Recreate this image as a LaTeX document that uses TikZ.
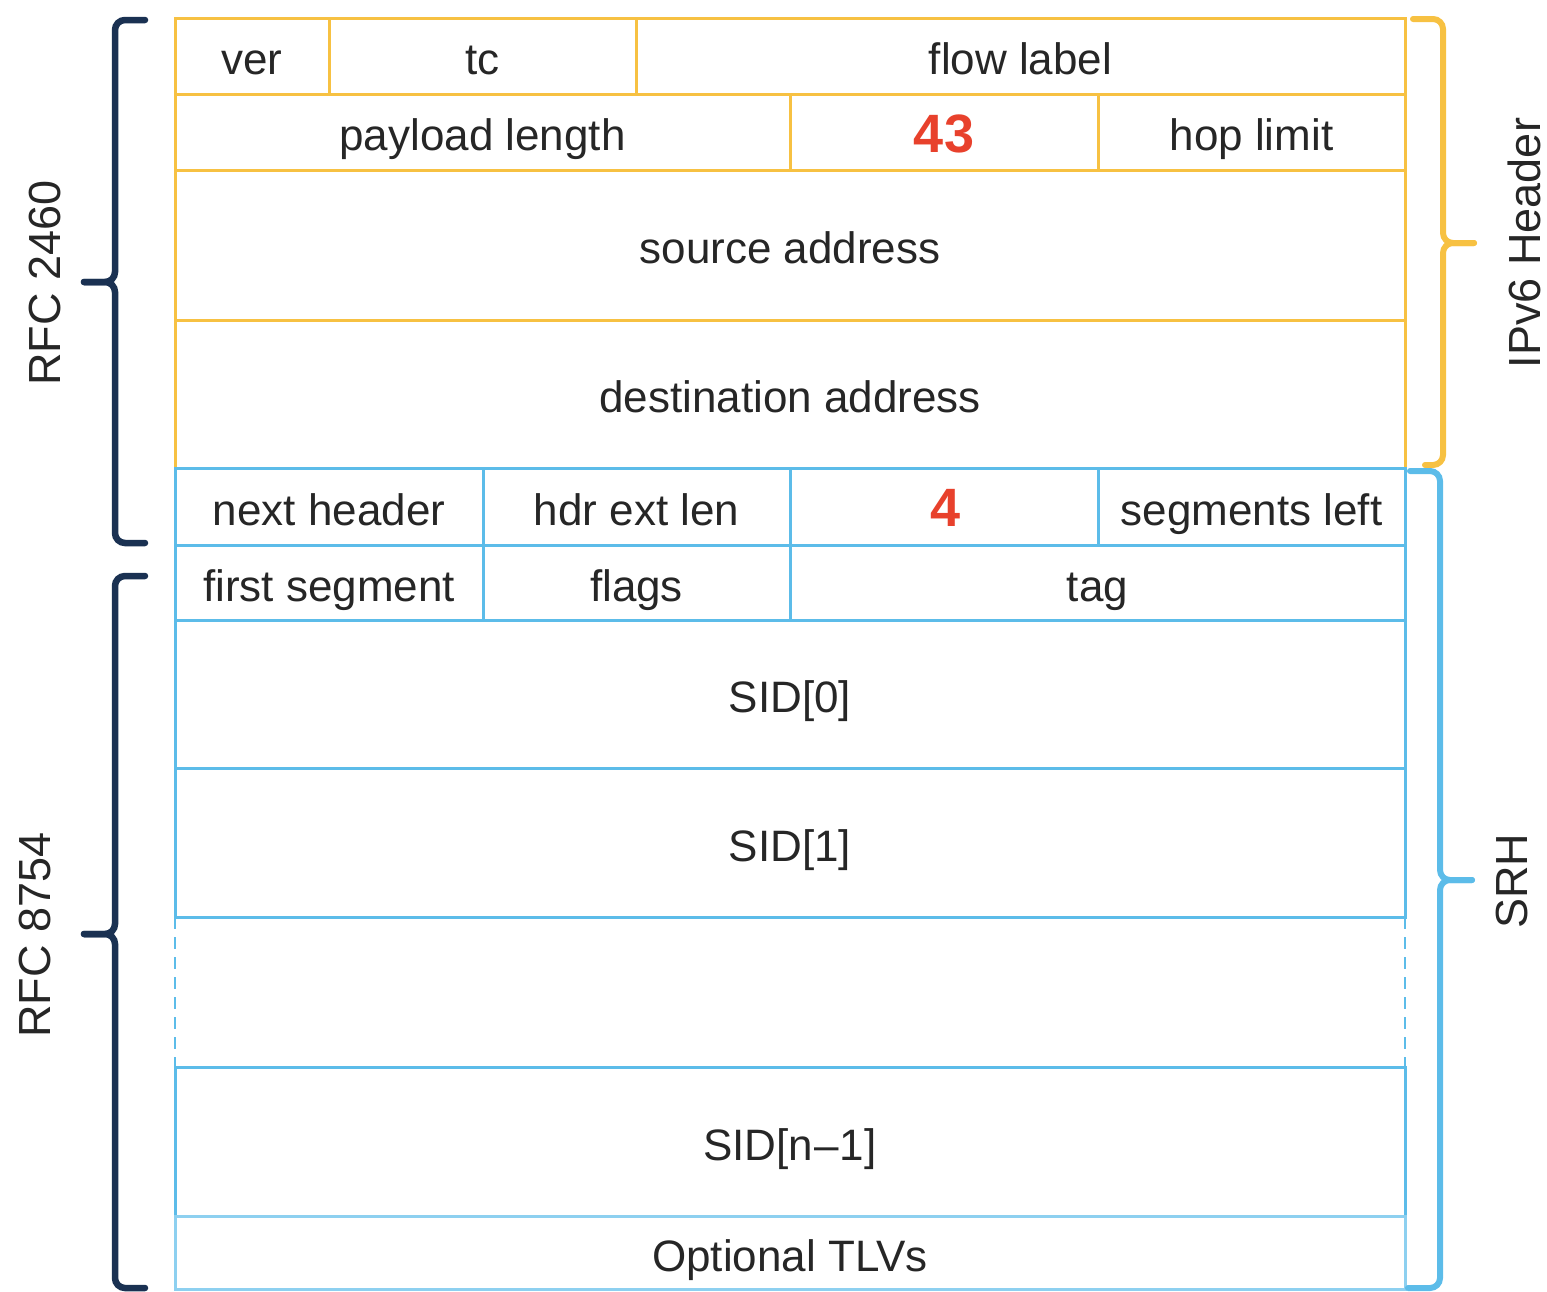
\documentclass[tikz,border=0pt]{standalone}
\usepackage{fontspec}
\setmainfont{Liberation Sans}
\definecolor{ivy}{HTML}{F7C142}
\definecolor{srh}{HTML}{5CBCE9}
\definecolor{navy}{HTML}{1A3152}
\definecolor{hot}{HTML}{E8412C}
\definecolor{ink}{HTML}{262626}
\newcommand{\fieldfont}{\fontsize{44}{48}\selectfont}
\newcommand{\valuefont}{\fontsize{54}{58}\selectfont\bfseries}
\begin{document}
\begin{tikzpicture}[x=1pt,y=-1pt,
  cell/.style={rectangle, inner sep=0pt, outer sep=0pt, line width=3pt, text=ink,
    font=\fieldfont, text height=37pt, text depth=0pt},
  ycell/.style={cell, draw=ivy},
  bcell/.style={cell, draw=srh},
  value/.style={font=\valuefont, text=hot, text height=40pt},
  brace/.style={line width=6.5pt, rounded corners=10pt, line cap=round},
  sidelabel/.style={rotate=90, text=ink, font=\fontsize{45}{48}\selectfont, inner sep=0pt}]
\useasboundingbox (0,0) rectangle (1547,1291);

% IPv6 header fields
\node[ycell, minimum width=154pt, minimum height=76pt] (ver) at (252,56) {ver};
\node[ycell, minimum width=307pt, minimum height=76pt] (tc) at (482.5,56) {tc};
\node[ycell, minimum width=769pt, minimum height=76pt] (flow) at (1020.5,56) {flow label};
\node[ycell, minimum width=615pt, minimum height=76pt] (plen) at (482.5,132) {payload length};
\node[ycell, value, minimum width=308pt, minimum height=76pt] (nxt) at (944,132) {43};
\node[ycell, minimum width=307pt, minimum height=76pt] (hop) at (1251.5,132) {hop limit};
\node[ycell, minimum width=1230pt, minimum height=150pt] (src) at (790,245) {source address};
\node[ycell, minimum width=1230pt, minimum height=148pt] (dst) at (790,394) {destination address};

% Segment routing header fields
\node[bcell, minimum width=308pt, minimum height=77pt] (nh) at (329,506.5) {next header};
\node[bcell, minimum width=307pt, minimum height=77pt] (hel) at (636.5,506.5) {hdr ext len};
\node[bcell, value, minimum width=308pt, minimum height=77pt] (rtype) at (944,506.5) {\kern4pt 4};
\node[bcell, minimum width=307pt, minimum height=77pt] (sl) at (1251.5,506.5) {segments left};
\node[bcell, minimum width=308pt, minimum height=75pt] (fs) at (329,582.5) {first segment};
\node[bcell, minimum width=307pt, minimum height=75pt] (flags) at (636.5,582.5) {flags};
\node[bcell, minimum width=615pt, minimum height=75pt] (tag) at (1097.5,582.5) {tag};
\node[bcell, minimum width=1230pt, minimum height=148pt] (sid0) at (790,694) {SID[0]};
\node[bcell, minimum width=1230pt, minimum height=149pt] (sid1) at (790,842.5) {SID[1]};
\node[cell, minimum width=1230pt, minimum height=150pt] (gap) at (790,992) {};
\node[bcell, minimum width=1230pt, minimum height=149pt] (sidn) at (790,1141.5) {SID[n\kern1pt\textendash\kern1pt1]};
\node[bcell, draw=srh!70, minimum width=1230pt, minimum height=73pt] (tlv) at (790,1252.5) {Optional TLVs};
\draw[srh, line width=2.6pt, dash pattern=on 12pt off 8pt] (gap.north west) -- (gap.south west);
\draw[srh, line width=2.6pt, dash pattern=on 12pt off 8pt] (gap.north east) -- (gap.south east);

% left braces
\coordinate (a1) at (145,20);  \coordinate (a2) at (145,543);  \coordinate (at) at (84,282);
\draw[navy, brace] (a1) -- (115,20) -- (115,282) -- (at);
\draw[navy, brace] (a2) -- (115,543) -- (115,282) -- (at);
\coordinate (b1) at (145,576); \coordinate (b2) at (145,1288); \coordinate (bt) at (84,934);
\draw[navy, brace] (b1) -- (115,576) -- (115,934) -- (bt);
\draw[navy, brace] (b2) -- (115,1288) -- (115,934) -- (bt);

% right braces
\coordinate (c1) at (1413,19); \coordinate (c2) at (1425,465); \coordinate (ct) at (1474,243);
\draw[ivy, brace, line width=6pt] (c1) -- (1443,19) -- (1443,243) -- (ct);
\draw[ivy, brace, line width=6pt] (c2) -- (1443,465) -- (1443,243) -- (ct);
\coordinate (d1) at (1410,471); \coordinate (d2) at (1408,1288); \coordinate (dt) at (1472,880);
\draw[srh, brace, line width=6pt] (d1) -- (1440,471) -- (1440,880) -- (dt);
\draw[srh, brace, line width=6pt] (d2) -- (1440,1288) -- (1440,880) -- (dt);

% labels
\node[sidelabel] (rfcA) at (45,283) {RFC 2460};
\node[sidelabel] (rfcB) at (35,935) {RFC 8754};
\node[sidelabel, anchor=base] (ipv6) at (1540,243) {IPv6 Header};
\node[sidelabel] (srhlbl) at (1512,881) {SRH};
\end{tikzpicture}
\end{document}
